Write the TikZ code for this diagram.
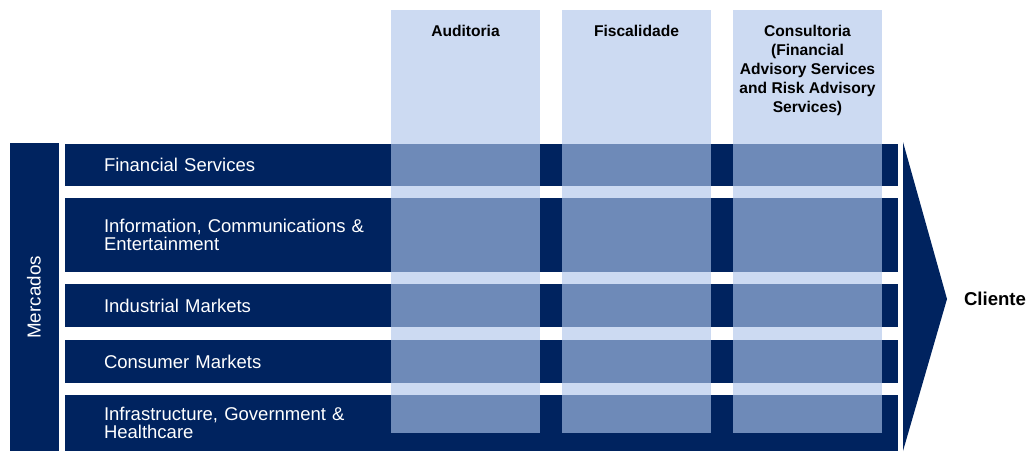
\documentclass[tikz,border=0pt]{standalone}
\usepackage{fontspec}
\setmainfont{Liberation Sans}

\definecolor{navy}{HTML}{00235F}
\definecolor{paleblue}{HTML}{CCDAF2}
\definecolor{steelblue}{HTML}{6E8AB8}

\begin{document}
\begin{tikzpicture}[x=0.5pt,y=-0.5pt,
    rowbox/.style={rectangle,fill=navy,text=white,minimum width=416.5pt,
        inner xsep=19.5pt,inner ysep=0pt,text width=377.5pt,align=left,
        font=\fontsize{9.25}{9}\selectfont},
    colbox/.style={rectangle,fill=paleblue,minimum width=74.5pt,
        minimum height=211pt,inner sep=0pt,anchor=north},
    header/.style={anchor=north,inner sep=0pt,align=center,
        font=\bfseries\fontsize{7.8}{9.5}\selectfont}]
        \useasboundingbox (0,0) rectangle (1029,451);

        % Mercados
        \node[fill=navy,minimum width=24.5pt,minimum height=154pt,inner sep=0pt,anchor=north west] (Merc) at (10,143) {};
        \node[rotate=90,text=white,font=\fontsize{9.4}{10}\selectfont] (MercT) at ([xshift=-0.5pt]Merc.center) {Mercados};

        % markets
        \node[rowbox,minimum height=21pt] (FS) at (481.5,165) {Financial Services};
        \node[rowbox,minimum height=37pt] (ICE) at (481.5,235) {Information, Communications \&\\Entertainment};
        \node[rowbox,minimum height=21.5pt] (IM) at (481.5,305.5) {Industrial Markets};
        \node[rowbox,minimum height=21.5pt] (CM) at (481.5,361.5) {Consumer Markets};
        \node[rowbox,minimum height=28pt] (IGH) at (481.5,423) {Infrastructure, Government \&\\Healthcare};

        % services
        \node[colbox] (Aud) at (465.5,10) {};
        \node[colbox] (Fis) at (636.5,10) {};
        \node[colbox] (Cons) at (807.5,10) {};

        \foreach \c in {Aud,Fis,Cons}{
            \foreach \r in {FS,ICE,IM,CM}
                \fill[steelblue] (\c.west |- \r.north) rectangle (\c.east |- \r.south);
            \fill[steelblue] (\c.west |- IGH.north) rectangle (\c.south east);
        }

        \node[header] (AudT) at ([yshift=-7.5pt]Aud.north) {Auditoria};
        \node[header] (FisT) at ([yshift=-7.5pt]Fis.north) {Fiscalidade};
        \node[header] (ConsT) at ([yshift=-7.5pt]Cons.north) {Consultoria\\(Financial\\Advisory Services\\and Risk Advisory\\Services)};

        % client
        \fill[navy] (903,142) -- (947,299) -- (903,451) -- cycle;
        \node[font=\bfseries\fontsize{9.3}{10}\selectfont] (Cli) at (995,299) {Cliente};

    \end{tikzpicture}
\end{document}
